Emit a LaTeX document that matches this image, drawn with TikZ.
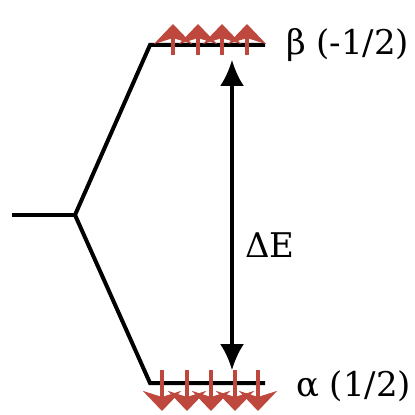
\documentclass[tikz,border=0pt]{standalone}
\usepackage{fontspec}
\newfontfamily\labelfont{DejaVu Serif}
\usepackage{xcolor}
\usetikzlibrary{arrows.meta,positioning}
\definecolor{spinred}{RGB}{190,72,62}

\begin{document}
\begin{tikzpicture}[x=0.5pt,y=-0.5pt,>=Latex,
   every node/.style={font=\labelfont\fontsize{17}{20}\selectfont},
   level/.style={line width=2pt,line join=miter},
   spin/.style={draw=spinred,line width=1.7pt,-{Stealth[length=10pt,width=19pt,inset=3pt]}}]
\useasboundingbox (0,0) rectangle (414,415);
% energy levels
\coordinate (free) at (12,215);
\coordinate (split) at (75,215);
\coordinate (bl) at (150,45);
\coordinate (br) at (265,45);
\coordinate (al) at (150,383);
\coordinate (ar) at (265,383);
\draw[level] (free)--(split);
\draw[level] (split)--(bl)--(br);
\draw[level] (split)--(al)--(ar);
% spins
\foreach \x in {173,198,222,247} \draw[spin] (\x,55)--(\x,24);
\foreach \x in {162,187,211,235,258} \draw[spin] (\x,370)--(\x,411);
% labels
\node[anchor=west] (beta) at (279,45) {β (-1/2)};
\node[anchor=west] (alpha) at (289,386) {α (1/2)};
\coordinate (top) at (232,60);
\coordinate (bot) at (232,370);
\draw[<->,line width=1.6pt,>={Latex[length=13pt,width=12pt]}] (top)--(bot);
\node (gap) at (270,245) {ΔE};
\end{tikzpicture}
\end{document}
